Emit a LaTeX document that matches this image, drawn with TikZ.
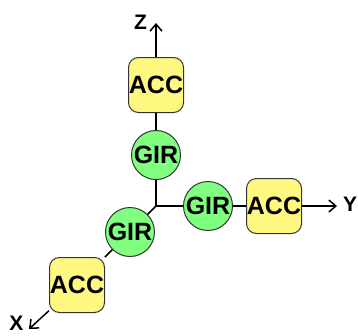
\documentclass[tikz,border=0pt]{standalone}
\usepackage{fontspec}
\setmainfont{Liberation Sans}
\usepackage{tikz}
\usetikzlibrary{arrows.meta,positioning}

\tikzset{
  acc/.style={draw=black!80, line width=1pt, fill=yellow!50, rounded corners=10pt, minimum width=55pt, minimum height=55pt, inner sep=0pt, font=\fontsize{25}{25}\selectfont\bfseries},
  gir/.style={circle, draw=black!80, line width=1pt, fill=green!50, minimum size=49pt, inner sep=0pt, font=\fontsize{25}{25}\selectfont\bfseries},
  axis/.style={line width=1.5pt},
  tip/.style={-{Straight Barb[length=7pt,width=12pt]}},
  lbl/.style={inner sep=0pt, font=\fontsize{21}{21}\selectfont\bfseries}
}

\begin{document}
\begin{tikzpicture}[x=1pt,y=-1pt]
\useasboundingbox (0,0) rectangle (358,335);

\coordinate (o) at (156,206);
\coordinate (zend) at (156,23);
\coordinate (yend) at (337,206);
\coordinate (xend) at (29,329);

\node (girz) [gir] at (156,155) {GIR};
\node (accz) [acc] at (156,85) {ACC};
\node (giry) [gir] at (208,206) {GIR};
\node (accy) [acc] at (274,206) {ACC};
\node (girx) [gir] at (130,232) {GIR};
\node (accx) [acc] at (77,285) {ACC};

\draw [axis] (o) -- (girz);
\draw [axis] (girz) -- (accz);
\draw [axis,tip] (accz) -- (zend);
\draw [axis] (o) -- (giry);
\draw [axis] (giry) -- (accy);
\draw [axis,tip] (accy) -- (yend);
\draw [axis] (o) -- (girx);
\draw [axis] (girx) -- (accx);
\draw [axis,tip] (accx) -- (xend);

\node (zlbl) [lbl] at (140.5,22) {Z};
\node (ylbl) [lbl] at (350,204) {Y};
\node (xlbl) [lbl] at (16.5,323) {X};
\end{tikzpicture}
\end{document}
